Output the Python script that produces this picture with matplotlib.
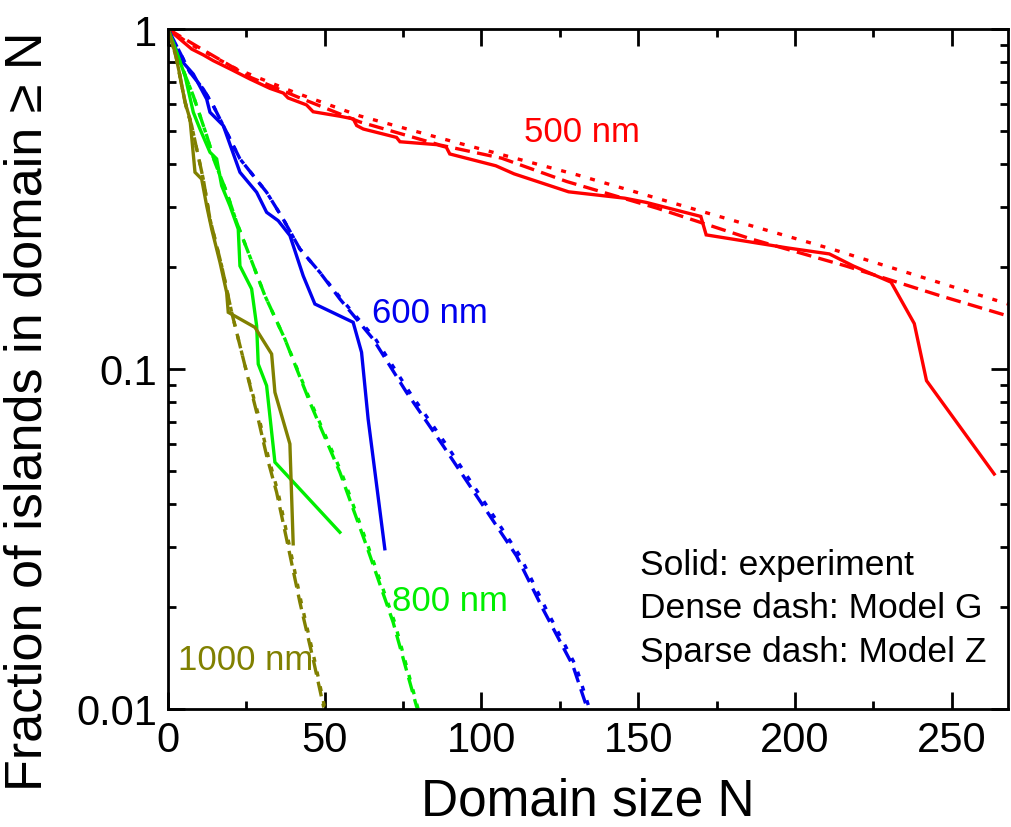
import matplotlib
matplotlib.use("Agg")
import matplotlib.pyplot as plt
from matplotlib.ticker import FixedLocator, MultipleLocator, LogLocator, NullFormatter

plt.rcParams["font.family"] = ["Liberation Sans", "DejaVu Sans"]

# 500 nm
red_exp_x = [0, 7.55, 11.25, 14.44, 20.3, 26.1, 32.5, 36.8, 38.3, 44.2, 46.3, 54.8, 59.1,
             60.2, 62.3, 72.9, 74.0, 85.7, 88.8, 89.9, 104.6, 110.4, 127.8, 145.7, 152.6,
             170.0, 171.7, 197.7, 211.0, 218.6, 230.7, 238.1, 242.0, 263.6]
red_exp_y = [1, 0.873, 0.839, 0.807, 0.759, 0.713, 0.669, 0.648, 0.627, 0.598, 0.571, 0.554,
             0.544, 0.520, 0.508, 0.480, 0.466, 0.457, 0.449, 0.429, 0.396, 0.375, 0.332,
             0.318, 0.309, 0.281, 0.248, 0.227, 0.218, 0.201, 0.180, 0.136, 0.0924, 0.0491]
red_g_x = [0, 10.2, 26.1, 42.1, 61.2, 86.7, 106.4, 127.2, 156.1, 186.2, 216.2, 246.3, 268]
red_g_y = [1, 0.879, 0.722, 0.627, 0.533, 0.456, 0.417, 0.356, 0.297, 0.241, 0.201, 0.1643, 0.1432]
red_z_x = [0, 7.0, 21.9, 40.0, 61.2, 86.7, 130.7, 169.9, 211.7, 268]
red_z_y = [1, 0.903, 0.763, 0.653, 0.555, 0.478, 0.372, 0.2915, 0.2254, 0.1553]

# 600 nm
blue_exp_x = [0, 3.83, 8.07, 12.34, 13.39, 17.63, 22.95, 28.28, 31.46, 35.16, 38.89, 43.13,
              46.86, 59.07, 61.75, 63.85, 69.17]
blue_exp_y = [1, 0.816, 0.737, 0.622, 0.569, 0.520, 0.379, 0.331, 0.289, 0.273, 0.247, 0.188,
              0.1553, 0.1372, 0.1120, 0.0713, 0.0296]
blue_g_x = [0, 7.0, 11.25, 14.44, 18.71, 22.95, 31.46, 36.75, 42.08, 48.45, 54.83, 65.44,
            76.09, 87.76, 98.41, 111.2, 119.6, 129.2, 133.5]
blue_g_y = [1, 0.746, 0.666, 0.595, 0.497, 0.415, 0.331, 0.276, 0.2254, 0.1925, 0.1607, 0.1225,
            0.0854, 0.0595, 0.0424, 0.0282, 0.0197, 0.0134, 0.0102]
blue_z_x = [0, 7.0, 11.25, 14.44, 18.71, 22.95, 31.46, 36.75, 42.08, 48.45, 55.3, 66.2,
            77.1, 89.0, 99.6, 112.3, 120.6, 130.1, 134.5]
blue_z_y = [1, 0.746, 0.666, 0.595, 0.497, 0.415, 0.331, 0.276, 0.2254, 0.1925, 0.1607, 0.1225,
            0.0854, 0.0595, 0.0424, 0.0282, 0.0197, 0.0134, 0.0100]

# 800 nm
green_exp_x = [0, 2.77, 5.42, 8.07, 10.2, 13.39, 15.52, 17.12, 19.76, 22.41, 22.95, 26.68,
               28.28, 28.79, 31.46, 34.11, 54.83]
green_exp_y = [1, 0.854, 0.729, 0.569, 0.508, 0.434, 0.415, 0.346, 0.302, 0.258, 0.201, 0.172,
               0.134, 0.1034, 0.0893, 0.0532, 0.0331]
green_g_x = [0, 3.83, 8.07, 12.34, 14.98, 18.71, 21.9, 25.6, 30.92, 37.3, 45.27, 54.83, 63.34,
             71.82, 79.4]
green_g_y = [1, 0.798, 0.636, 0.486, 0.405, 0.331, 0.270, 0.2204, 0.1643, 0.1225, 0.0798,
             0.0497, 0.0302, 0.0180, 0.0101]
green_z_x = [0, 3.83, 8.07, 12.34, 14.98, 18.71, 21.9, 25.6, 30.92, 37.3, 45.6, 55.3, 63.8,
             72.3, 79.8]
green_z_y = [1, 0.798, 0.636, 0.486, 0.405, 0.331, 0.270, 0.2204, 0.1643, 0.1225, 0.0798,
             0.0497, 0.0302, 0.0180, 0.0100]

# 1000 nm
olive_exp_x = [0, 2.23, 3.83, 5.42, 7.01, 8.61, 10.74, 12.34, 13.93, 16.58, 18.71, 19.22,
               27.73, 33.06, 34.11, 38.89, 39.94]
olive_exp_y = [1, 0.854, 0.729, 0.609, 0.544, 0.379, 0.362, 0.302, 0.258, 0.206, 0.168, 0.1468,
               0.1326, 0.1107, 0.0854, 0.0602, 0.0306]
olive_g_x = [0, 2.77, 4.37, 5.96, 7.55, 9.15, 11.25, 13.39, 17.12, 20.31, 24.55, 28.28, 31.46,
             34.65, 37.84, 42.08, 46.32, 49.7]
olive_g_y = [1, 0.816, 0.681, 0.582, 0.520, 0.444, 0.362, 0.276, 0.201, 0.1468, 0.1023, 0.0746,
             0.0556, 0.0434, 0.0316, 0.0206, 0.0140, 0.0101]
olive_z_x = [0, 2.77, 4.37, 5.96, 7.55, 9.15, 11.25, 13.39, 17.12, 20.31, 24.55, 28.6, 31.9,
             35.1, 38.3, 42.5, 46.7, 50.1]
olive_z_y = [1, 0.816, 0.681, 0.582, 0.520, 0.444, 0.362, 0.276, 0.201, 0.1468, 0.1023, 0.0746,
             0.0556, 0.0434, 0.0316, 0.0206, 0.0140, 0.0100]

RED = "#ff0000"
BLUE = "#0000ee"
GREEN = "#00ee00"
OLIVE = "#808000"

LW = 2.4
DENSE = (0, (4.5, 2.2))
SPARSE = (0, (1.5, 3.0))

fig = plt.figure(figsize=(10.11, 8.28), dpi=100)
ax = fig.add_axes([168 / 1011, 1 - 710 / 828, 840 / 1011, 680 / 828])

series = [
    (RED, red_exp_x, red_exp_y, red_g_x, red_g_y, red_z_x, red_z_y),
    (BLUE, blue_exp_x, blue_exp_y, blue_g_x, blue_g_y, blue_z_x, blue_z_y),
    (GREEN, green_exp_x, green_exp_y, green_g_x, green_g_y, green_z_x, green_z_y),
    (OLIVE, olive_exp_x, olive_exp_y, olive_g_x, olive_g_y, olive_z_x, olive_z_y),
]
for c, ex, ey, gx, gy, zx, zy in series:
    ax.plot(gx, gy, color=c, lw=LW, linestyle=DENSE)
    ax.plot(zx, zy, color=c, lw=LW, linestyle=SPARSE)
    ax.plot(ex, ey, color=c, lw=LW, solid_joinstyle="miter")

ax.set_yscale("log")
ax.set_xlim(0, 268)
ax.set_ylim(0.01, 1)

ax.xaxis.set_major_locator(MultipleLocator(50))
ax.xaxis.set_minor_locator(MultipleLocator(25))
ax.yaxis.set_major_locator(FixedLocator([0.01, 0.1, 1]))
ax.yaxis.set_minor_locator(LogLocator(base=10, subs=range(2, 10)))
ax.yaxis.set_minor_formatter(NullFormatter())
ax.set_yticklabels(["0.01", "0.1", "1"])

ax.tick_params(which="both", direction="in", top=True, right=True, width=2, color="black")
ax.tick_params(which="major", length=12, labelsize=30, pad=8)
ax.tick_params(which="minor", length=6)
for s in ax.spines.values():
    s.set_linewidth(2)

ax.set_xlabel("Domain size N", fontsize=37, labelpad=12)
ax.set_ylabel("Fraction of islands in domain \u2265 N", fontsize=37.5)
ax.yaxis.set_label_coords(-0.137, 0.44)

ax.text(113.5, 0.498, "500 nm", color=RED, fontsize=25, va="center")
ax.text(65.0, 0.147, "600 nm", color=BLUE, fontsize=25, va="center")
ax.text(71.4, 0.0208, "800 nm", color=GREEN, fontsize=25, va="center")
ax.text(3.2, 0.0140, "1000 nm", color=OLIVE, fontsize=25, va="center")

ax.text(0.562, 0.213, "Solid: experiment", transform=ax.transAxes, fontsize=25.5, va="center")
ax.text(0.562, 0.150, "Dense dash: Model G", transform=ax.transAxes, fontsize=25.5, va="center")
ax.text(0.562, 0.084, "Sparse dash: Model Z", transform=ax.transAxes, fontsize=25.5, va="center")

fig.savefig("out.png", dpi=100)
